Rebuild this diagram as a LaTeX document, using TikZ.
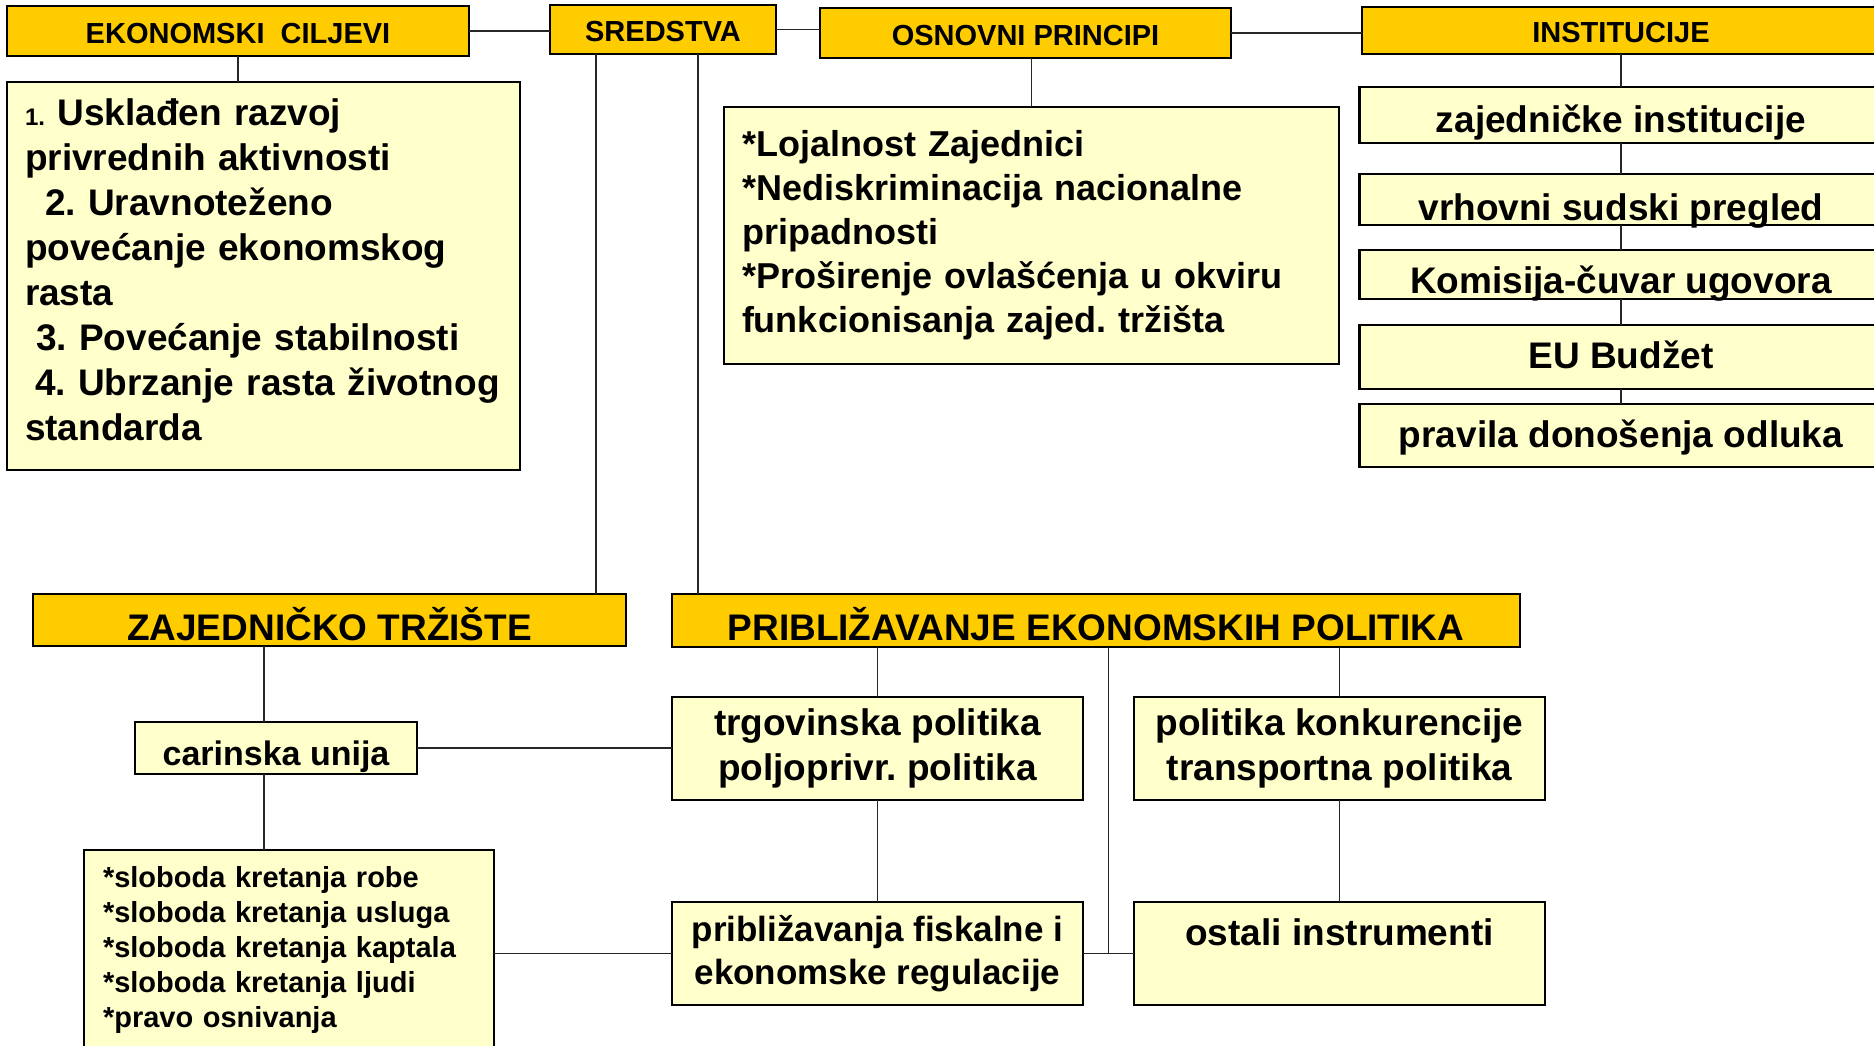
\documentclass[tikz,border=0pt]{standalone}
\usepackage{fontspec}
\setmainfont{Liberation Sans}
\usepackage{xcolor}
\usetikzlibrary{positioning}
\frenchspacing

\definecolor{headgold}{HTML}{FFCC00}
\definecolor{boxcream}{HTML}{FFFFCC}

\begin{document}
\begin{tikzpicture}[x=1pt, y=-1pt,
  head/.style={draw, line width=2.5pt, fill=headgold, inner sep=0pt, outer sep=0pt, minimum height=50pt, text height=24pt, text depth=0pt, font=\bfseries\fontsize{29}{35}\selectfont},
  bighead/.style={head, minimum height=52pt, text height=40pt, font=\bfseries\fontsize{37}{45}\selectfont},
  cell/.style={draw, line width=2.5pt, fill=boxcream, inner sep=0pt, outer sep=0pt, font=\bfseries\fontsize{37}{45}\selectfont},
  box/.style={cell, align=center},
  inst/.style={cell, minimum width=523pt, text depth=0pt},
  link/.style={line width=1.6pt, draw=black!85}
]
\useasboundingbox (0,0) rectangle (1874,1045);
\fill[white] (0,0) rectangle (1874,1045);

% top row
\node[head, minimum width=462pt, anchor=north west] (ciljevi) at (7,6) {EKONOMSKI\ \ CILJEVI};
\node[head, minimum width=226pt, minimum height=49pt, anchor=north west] (sredstva) at (550,5) {SREDSTVA};
\node[head, minimum width=411pt, anchor=north west] (osnovni) at (820,8) {OSNOVNI PRINCIPI};
\node[head, minimum width=518pt, minimum height=47pt, anchor=north west] (institucije) at (1362,7) {INSTITUCIJE};

\node[cell, align=left, text width=477pt, inner xsep=18pt, minimum height=388pt, below=26pt of ciljevi.south west, anchor=north west] (goals)
  {\mbox{{\fontsize{24}{45}\selectfont 1.} Usklađen razvoj}\\ \mbox{privrednih aktivnosti}\\ \mbox{\hspace*{20pt}2. Uravnoteženo}\\ \mbox{povećanje ekonomskog}\\ rasta\\ \mbox{\hspace*{11pt}3. Povećanje stabilnosti}\\ \mbox{\hspace*{10pt}4. Ubrzanje rasta životnog}\\ standarda\strut};
\node[cell, align=left, text width=579pt, inner xsep=18pt, minimum height=257pt, font=\bfseries\fontsize{36}{44}\selectfont, anchor=north west] (principi) at (724,107)
  {\mbox{{*}Lojalnost Zajednici}\\ \mbox{{*}Nediskriminacija nacionalne}\\ pripadnosti\\ \mbox{{*}Proširenje ovlašćenja u okviru}\\ \mbox{funkcionisanja zajed. tržišta}};

% institucije
\node[inst, minimum height=56pt, text height=34pt, below=33pt of institucije] (zajinst) {zajedničke institucije};
\node[inst, minimum height=51pt, text height=41pt, below=31pt of zajinst] (vrhovni) {vrhovni sudski pregled};
\node[inst, minimum height=49pt, text height=37pt, below=25pt of vrhovni] (komisija) {Komisija-čuvar ugovora};
\node[inst, minimum height=64pt, text height=22pt, below=26pt of komisija] (budzet) {EU Budžet};
\node[inst, minimum height=63pt, text height=23pt, below=15pt of budzet] (pravila) {pravila donošenja odluka};

% bottom part
\node[bighead, minimum width=593pt, anchor=north west] (zajednicko) at (33,594) {ZAJEDNIČKO TRŽIŠTE};
\node[bighead, minimum width=848pt, minimum height=53pt, anchor=north west] (priblizavanje) at (672,594) {PRIBLIŽAVANJE EKONOMSKIH POLITIKA};

\node[cell, minimum width=282pt, minimum height=52pt, text height=34pt, text depth=0pt, font=\bfseries\fontsize{34}{41}\selectfont, anchor=north west] (carinska) at (135,722) {carinska unija};
\node[cell, align=left, text width=372pt, inner xsep=19pt, minimum height=200pt, font=\bfseries\fontsize{29}{35}\selectfont, anchor=north west] (sloboda) at (84,850)
  {{*}sloboda kretanja robe\\ {*}sloboda kretanja usluga\\ {*}sloboda kretanja kaptala\\ {*}sloboda kretanja ljudi\\ {*}pravo osnivanja};

\node[box, minimum width=411pt, minimum height=103pt, below=50pt of priblizavanje.south west, anchor=north west] (trgovinska) {trgovinska politika\\ poljoprivr. politika};
\node[box, minimum width=411pt, minimum height=103pt, right=51pt of trgovinska] (konkurencije) {politika konkurencije\\ transportna politika};
\node[box, minimum width=411pt, minimum height=103pt, below=102pt of trgovinska, font=\bfseries\fontsize{35}{43}\selectfont] (fiskalne) {približavanja fiskalne i\\ ekonomske regulacije};
\node[cell, minimum width=411pt, minimum height=103pt, text height=27pt, text depth=44pt, right=51pt of fiskalne] (ostali) {ostali instrumenti};

% connectors
\draw[link] (ciljevi.east) -- (ciljevi.east -| sredstva.west);
\draw[link] (sredstva.east) -- (sredstva.east -| osnovni.west);
\draw[link] (osnovni.east) -- (osnovni.east -| institucije.west);
\draw[link] (ciljevi.south) -- (ciljevi.south |- goals.north);
\draw[link] (principi.north) -- (principi.north |- osnovni.south);
\foreach \a/\b in {institucije/zajinst, zajinst/vrhovni, vrhovni/komisija, komisija/budzet, budzet/pravila}
  \draw[link] (\a.south) -- (\b.north);

\coordinate[xshift=-30pt] (zt) at (zajednicko.north east);
\coordinate[xshift=26pt] (pb) at (priblizavanje.north west);
\draw[link] (zt) -- (zt |- sredstva.south);
\draw[link] (pb) -- (pb |- sredstva.south);

\coordinate[xshift=-12pt] (cu) at (carinska.north);
\draw[link] (cu) -- (cu |- zajednicko.south);
\draw[link] (cu |- carinska.south) -- (cu |- sloboda.north);
\draw[link] (carinska.east) -- (carinska.east -| trgovinska.west);
\draw[link] (fiskalne.west) -- (fiskalne.west -| sloboda.east);

\draw[link] (trgovinska.north) -- (trgovinska.north |- priblizavanje.south);
\draw[link] (konkurencije.north) -- (konkurencije.north |- priblizavanje.south);
\draw[link] (trgovinska) -- (fiskalne);
\draw[link] (konkurencije) -- (ostali);
\draw[link] (fiskalne.east) -- coordinate[midway] (mid) (ostali.west);
\draw[link] (mid) -- (mid |- priblizavanje.south);
\end{tikzpicture}
\end{document}
